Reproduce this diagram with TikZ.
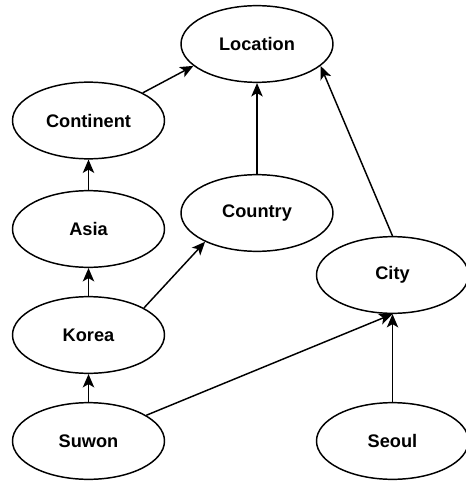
\documentclass[tikz,border=0pt]{standalone}
\usepackage{fontspec}
\setmainfont{Liberation Sans}
\usetikzlibrary{shapes.geometric,arrows.meta}

\begin{document}
\begin{tikzpicture}[
    x=0.75pt, y=-0.75pt,
    concept/.style={ellipse,draw,line width=1.1pt,minimum width=114pt,minimum height=57.5pt,inner sep=0pt,
        font=\fontsize{13.65}{16}\selectfont\bfseries},
    isa/.style={-{Stealth[length=10pt,width=8.5pt,inset=2.5pt]},line width=1.1pt},
]
    \useasboundingbox (0,0) rectangle (466,481);

    % Concepts
    \node[concept] (location) at (257,44) {Location};
    \node[concept] (continent) at (88.5,120.5) {Continent};
    \node[concept] (country) at (257,213) {Country};
    \node[concept] (asia) at (88.5,229) {Asia};
    \node[concept] (city) at (392.5,275) {City};
    \node[concept] (korea) at (88.5,335) {Korea};
    \node[concept] (suwon) at (88.5,441) {Suwon};
    \node[concept] (seoul) at (392.5,441) {Seoul};

    % Links
    \draw[isa] (continent.27) -- (location.199);
    \draw[isa] (country) -- (location);
    \draw[isa] (city.north) -- (location.-19);
    \draw[isa] (asia) -- (continent);
    \draw[isa] (korea) -- (asia);
    \draw[isa] (korea.26) -- (country.209);
    \draw[isa] (suwon) -- (korea);
    \draw[isa] (suwon.24) -- (city.south);
    \draw[isa] (seoul) -- (city);
\end{tikzpicture}
\end{document}
